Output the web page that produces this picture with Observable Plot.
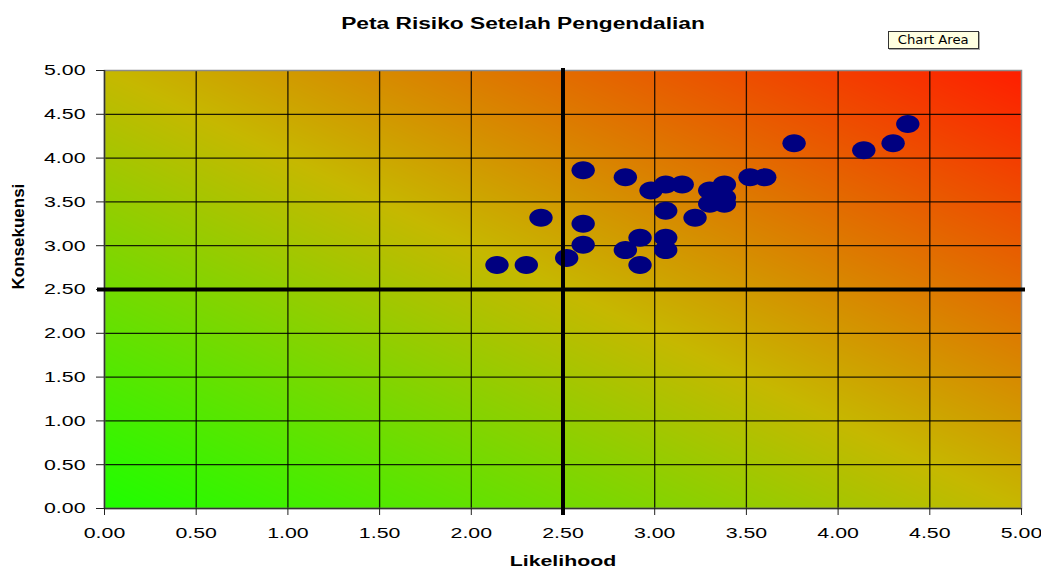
<!DOCTYPE html>
<html><head><meta charset="utf-8">
<script src="https://cdn.jsdelivr.net/npm/d3@7"></script>
<script src="https://cdn.jsdelivr.net/npm/@observablehq/plot@0.6"></script>
<style>
html,body{margin:0;padding:0;background:#fff;overflow:hidden}
#wrap{position:relative;width:1041px;height:572px}
#tip{position:absolute;left:888px;top:31px;width:91px;height:18px;box-sizing:border-box;border:1px solid #333;background:#ffffe1;font:12px "DejaVu Sans",sans-serif;line-height:16px;text-align:center;box-shadow:1px 1px 0 #aaa;z-index:2}
#tip span{display:inline-block;transform:scaleX(1.1)}
</style></head><body>
<div id="wrap"><div id="tip"><span>Chart Area</span></div></div>
<script>
const title = "Peta Risiko Setelah Pengendalian";
const xLabel = "Likelihood";
const yLabel = "Konsekuensi";
const tickValues = [0, 0.5, 1, 1.5, 2, 2.5, 3, 3.5, 4, 4.5, 5];
const threshold = 2.5;
const likelihood = [2.14, 2.30, 2.38, 2.52, 2.61, 2.61, 2.61, 2.84, 2.84, 2.92, 2.92, 2.98, 3.06, 3.06, 3.06, 3.06, 3.15, 3.22, 3.30, 3.30, 3.38, 3.38, 3.38, 3.52, 3.60, 3.76, 4.14, 4.30, 4.38];
const konsekuensi = [2.78, 2.78, 3.32, 2.86, 3.86, 3.25, 3.01, 3.78, 2.95, 3.09, 2.78, 3.63, 3.70, 3.40, 3.09, 2.95, 3.70, 3.32, 3.63, 3.48, 3.70, 3.55, 3.48, 3.78, 3.78, 4.17, 4.09, 4.17, 4.39];

const points = likelihood.map((x, i) => ({x, y: konsekuensi[i]}));
const gridTicks = tickValues.filter(v => v > 0 && v < 5);

// Elliptical marker (Excel-style stretched circle)
const ellipse = {
  draw(context, size) {
    const r = Math.sqrt(size / Math.PI), rx = r * 1.3, ry = r, k = 0.5522847498;
    context.moveTo(rx, 0);
    context.bezierCurveTo(rx, k * ry, k * rx, ry, 0, ry);
    context.bezierCurveTo(-k * rx, ry, -rx, k * ry, -rx, 0);
    context.bezierCurveTo(-rx, -k * ry, -k * rx, -ry, 0, -ry);
    context.bezierCurveTo(k * rx, -ry, rx, -k * ry, rx, 0);
    context.closePath();
  }
};

const fmt = d3.format(".2f");

const svg = Plot.plot({
  width: 1041,
  height: 572,
  marginLeft: 104,
  marginRight: 20,
  marginTop: 70,
  marginBottom: 64,
  style: {fontFamily: "'Liberation Sans', Arial, sans-serif", fontSize: "15px", color: "black", background: "white"},
  x: {domain: [0, 5]},
  y: {domain: [0, 5]},
  color: {type: "linear", domain: [0, 0.5, 1], range: ["#1eff00", "#c6b800", "#ff1e00"], interpolate: "rgb"},
  marks: [
    Plot.raster({x1: 0, x2: 5, y1: 0, y2: 5, pixelSize: 1, fill: (x, y) => (x + y) / 10}),
    Plot.ruleX(gridTicks, {stroke: "black", strokeWidth: 1.3, strokeOpacity: 0.85}),
    Plot.ruleY(gridTicks, {stroke: "black", strokeWidth: 1.3, strokeOpacity: 0.85}),
    Plot.frame({stroke: "#8c8c8c", strokeWidth: 1.5}),
    Plot.ruleX([0], {stroke: "#333", strokeWidth: 1.5}),
    Plot.ruleY([0], {stroke: "#333", strokeWidth: 1.5}),
    Plot.axisX({ticks: tickValues, tickFormat: fmt, tickSize: 7, tickPadding: 12, label: null, stroke: "#222", fill: "black", fontSize: 15}),
    Plot.axisY({ticks: tickValues, tickFormat: fmt, tickSize: 8, tickPadding: 11, label: null, stroke: "#222", fill: "black", fontSize: 15}),
    Plot.dot(points, {x: "x", y: "y", r: 9, symbol: ellipse, fill: "#000080", stroke: null}),
    Plot.ruleX([threshold], {stroke: "black", strokeWidth: 4, insetTop: -2, insetBottom: -7}),
    Plot.ruleY([threshold], {stroke: "black", strokeWidth: 4, insetLeft: -7, insetRight: -4}),
    Plot.text([title], {frameAnchor: "top", dy: -53, dx: -40, fontSize: 16, fontWeight: "bold", fill: "black"}),
    Plot.text([xLabel], {frameAnchor: "bottom", dy: 57, fontSize: 15, fontWeight: "bold", fill: "black"}),
    Plot.text([yLabel], {frameAnchor: "left", dx: -86, rotate: -90, fontSize: 17, fontWeight: "bold", fill: "black"})
  ]
});

document.getElementById("wrap").appendChild(svg);

// Stretch glyphs horizontally like the reference rendering
svg.querySelectorAll("text").forEach(t => {
  const tr = t.getAttribute("transform") || "";
  if (tr.includes("rotate")) return;
  const L = t.getComputedTextLength();
  if (L > 0) {
    t.setAttribute("textLength", (L * 1.42).toFixed(1));
    t.setAttribute("lengthAdjust", "spacingAndGlyphs");
  }
});
</script>
</body></html>
